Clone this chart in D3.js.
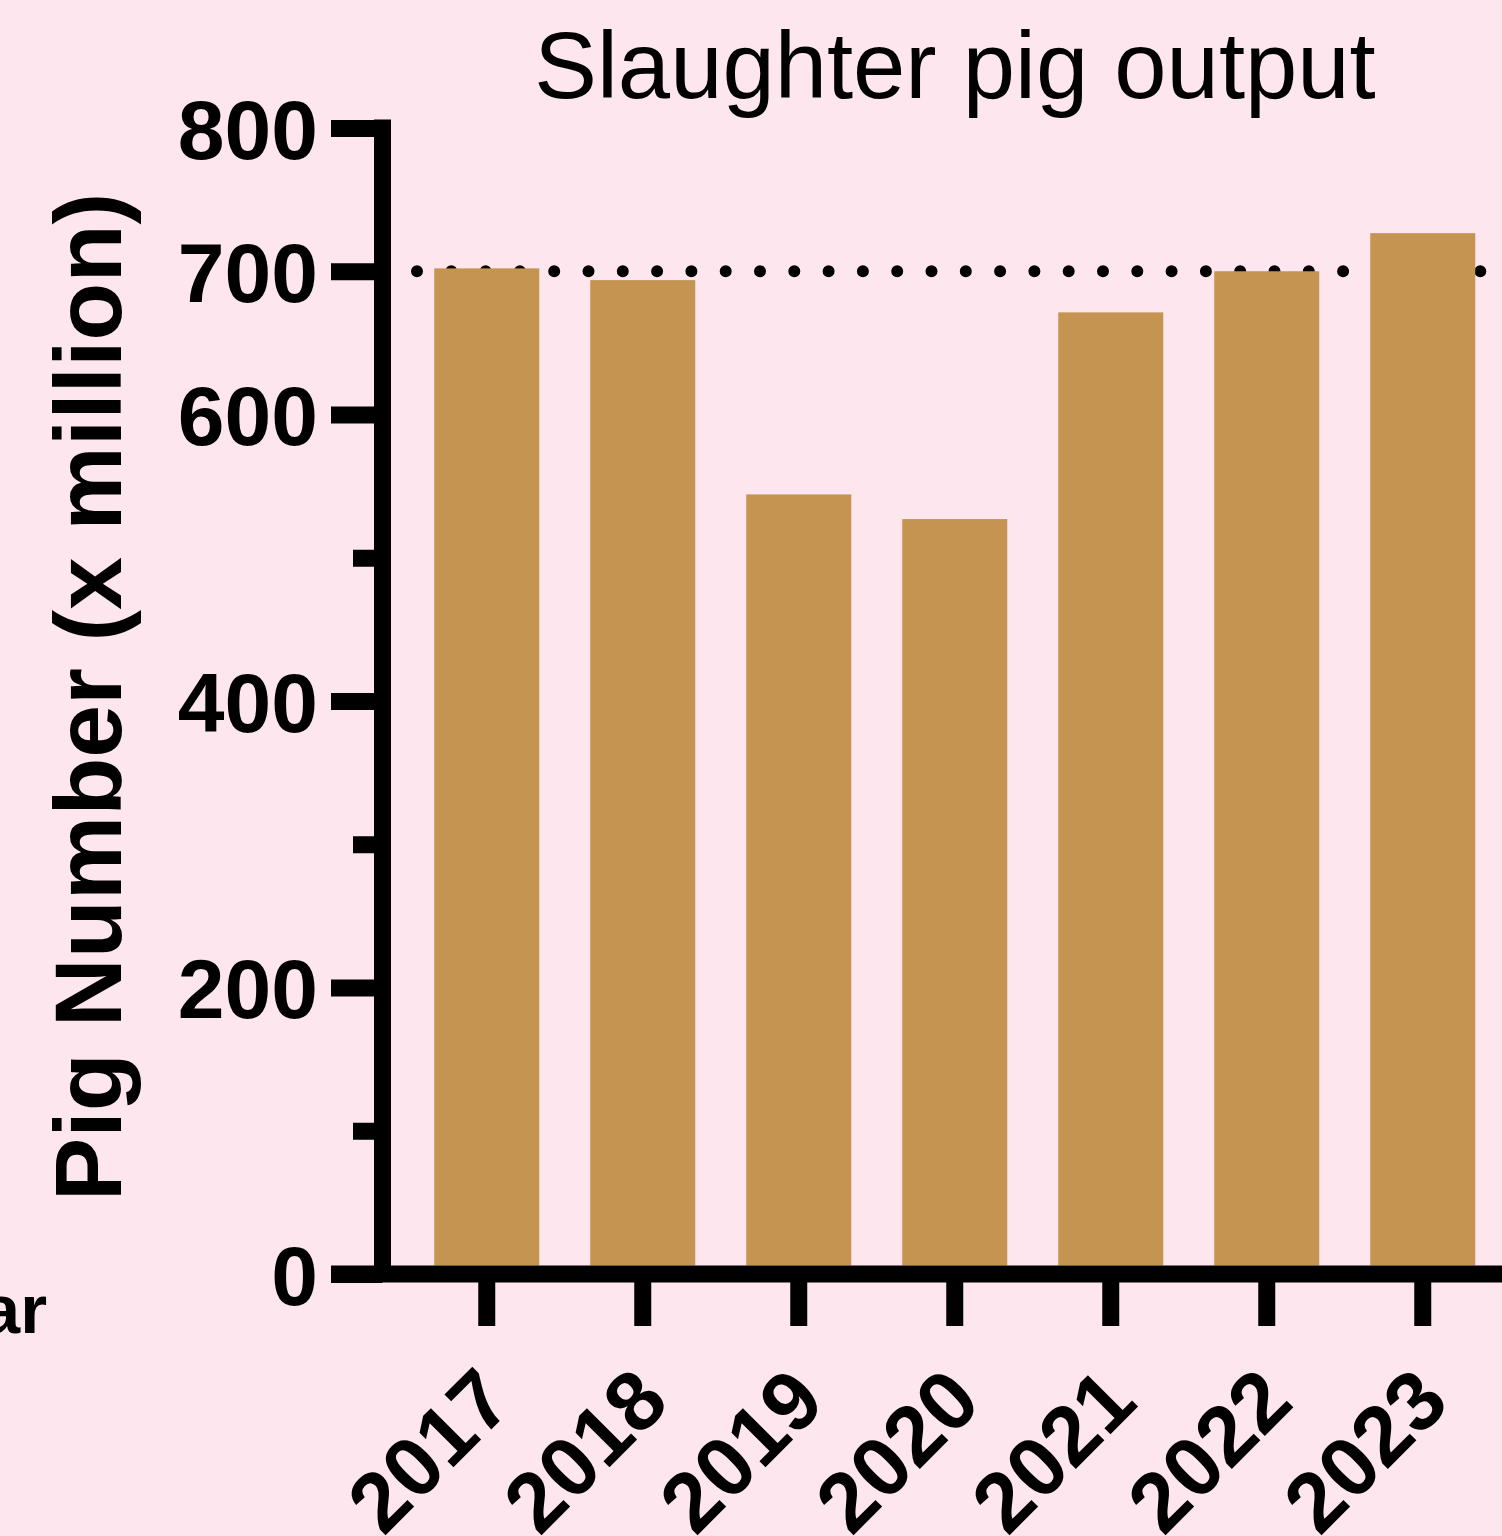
<!DOCTYPE html>
<html>
<head>
<meta charset="utf-8">
<script src="https://cdn.jsdelivr.net/npm/d3@7"></script>
<style>
  html, body { margin:0; padding:0; background:#fde6ee; overflow:hidden; }
  text { font-family: "Liberation Sans", Arial, sans-serif; fill:#000; }
</style>
</head>
<body>
<div id="chart"></div>
<script>
// data (million head)
var years = ["2017", "2018", "2019", "2020", "2021", "2022", "2023"]
var output = [702.0, 693.8, 544.2, 527.0, 671.3, 700.0, 726.6]
var refLine = 700
var labelTicks = [0, 200, 400, 600, 700, 800]
var minorTicks = [100, 300, 500]

var W = 1502, H = 1536
var axisX = 382.5, axisY = 1274, lw = 17

var svg = d3.select("#chart").append("svg")
  .attr("width", W).attr("height", H)

svg.append("rect").attr("width", W).attr("height", H).attr("fill", "#fde6ee")

var y = d3.scaleLinear().domain([0, 800]).range([axisY, 128])
var x = d3.scaleBand().domain(years).range([382, 1527.5])
  .paddingInner(0.327).paddingOuter(0.335)

// dotted reference line at 700, bars sit on top of it
svg.append("line")
  .attr("x1", 417).attr("x2", W + 40)
  .attr("y1", y(refLine)).attr("y2", y(refLine))
  .attr("stroke", "#000").attr("stroke-width", 12)
  .attr("stroke-linecap", "round")
  .attr("stroke-dasharray", "0 34.3")

svg.selectAll(".bar")
  .data(years).enter().append("rect")
  .attr("class", "bar")
  .attr("x", function(d) { return x(d) })
  .attr("width", x.bandwidth())
  .attr("y", function(d, i) { return y(output[i]) })
  .attr("height", function(d, i) { return y(0) - y(output[i]) - lw/2 })
  .attr("fill", "#c49450")

// y axis
var yAxis = svg.append("g").attr("transform", "translate(" + axisX + ",0)")
  .call(d3.axisLeft(y).tickValues(labelTicks).tickSize(51.5).tickPadding(13))
var yMinor = svg.append("g").attr("transform", "translate(" + axisX + ",0)")
  .call(d3.axisLeft(y).tickValues(minorTicks).tickSize(29.5).tickFormat(""))

;[yAxis, yMinor].forEach(function(g) {
  g.select(".domain").remove()
  g.selectAll(".tick line").attr("stroke", "#000").attr("stroke-width", lw)
})
yAxis.selectAll(".tick text")
  .style("font-size", "84px").style("font-weight", "bold")
  .attr("dy", "0.36em")

svg.append("line")
  .attr("x1", axisX).attr("x2", axisX)
  .attr("y1", y(800) - lw/2).attr("y2", axisY)
  .attr("stroke", "#000").attr("stroke-width", lw)

// x axis
var xAxis = svg.append("g").attr("transform", "translate(0," + axisY + ")")
  .call(d3.axisBottom(x).tickSize(52))
xAxis.select(".domain").remove()
xAxis.selectAll(".tick line").attr("stroke", "#000").attr("stroke-width", lw)
xAxis.selectAll(".tick text")
  .attr("x", 0).attr("y", 0).attr("dy", 0)
  .attr("text-anchor", "end")
  .attr("transform", "translate(29,131) rotate(-45)")
  .style("font-size", "84px").style("font-weight", "bold")

svg.append("line")
  .attr("x1", 331).attr("x2", W + 20)
  .attr("y1", axisY).attr("y2", axisY)
  .attr("stroke", "#000").attr("stroke-width", lw)

// titles
svg.append("text")
  .attr("x", 955).attr("y", 98)
  .attr("text-anchor", "middle")
  .style("font-size", "94px")
  .text("Slaughter pig output")

svg.append("text")
  .attr("transform", "translate(121,697) rotate(-90)")
  .attr("text-anchor", "middle")
  .style("font-size", "95px").style("font-weight", "bold")
  .text("Pig Number (x million)")

// x title is cut off at the left edge in the original
svg.append("text")
  .attr("x", 47).attr("y", 1333)
  .attr("text-anchor", "end")
  .style("font-size", "69px").style("font-weight", "bold")
  .text("Year")
</script>
</body>
</html>
